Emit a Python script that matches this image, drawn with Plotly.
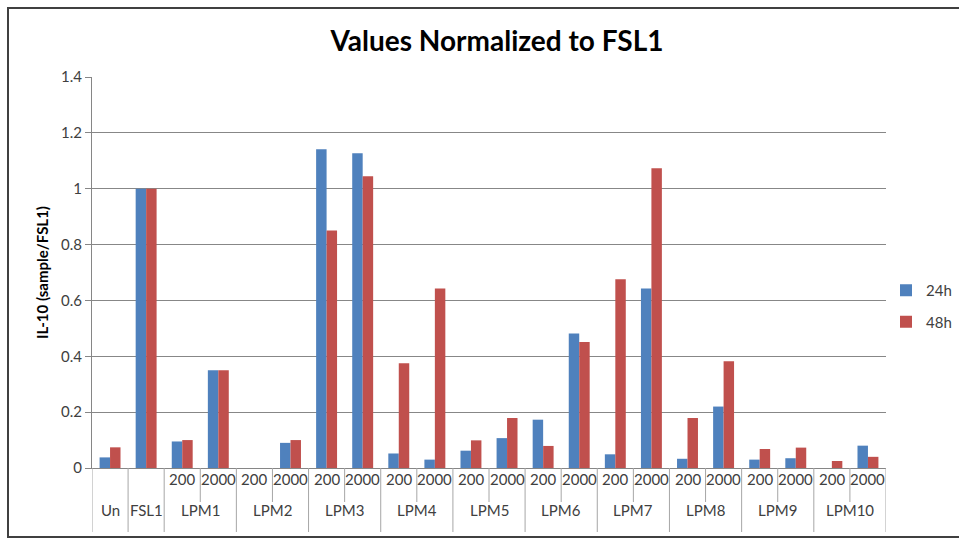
import plotly.graph_objects as go

groups = ["Un", "FSL1", "LPM1", "LPM2", "LPM3", "LPM4", "LPM5", "LPM6", "LPM7", "LPM8", "LPM9", "LPM10"]
doses = ["200", "2000"]
categories = ["Un", "FSL1"] + [f"{g} {d}" for g in groups[2:] for d in doses]
sub_labels = ["", ""] + [d for g in groups[2:] for d in doses]

v24 = [0.038, 1.0, 0.095, 0.35, 0.0, 0.09, 1.141, 1.127, 0.052, 0.03, 0.062, 0.107,
       0.173, 0.482, 0.049, 0.643, 0.033, 0.22, 0.03, 0.035, 0.0, 0.08]
v48 = [0.074, 1.0, 0.10, 0.35, 0.0, 0.10, 0.85, 1.045, 0.375, 0.643, 0.099, 0.179,
       0.079, 0.451, 0.676, 1.073, 0.179, 0.382, 0.068, 0.073, 0.025, 0.04]
series_names = ["24h", "48h"]
colors = ["#4F81BD", "#C0504D"]

W, H = 959, 540
L, R, T, B = 92, 886, 77, 468

def px_x(p):
    return (p - L) / (R - L)

def px_y(p):
    return (B - p) / (B - T)

fig = go.Figure()
for name, vals, c in zip(series_names, [v24, v48], colors):
    fig.add_trace(go.Bar(x=categories, y=vals, name=name, legendgroup=name,
                         marker=dict(color=c, line=dict(width=0))))

shapes = []
annotations = []
n = len(categories)
lab_font = dict(family="Lato, sans-serif", size=15, color="#404040")
for i, lab in enumerate(sub_labels):
    if lab:
        annotations.append(dict(x=categories[i], y=px_y(490), xref="x", yref="paper", text=lab,
                                showarrow=False, font=lab_font))
pos = 0
group_sizes = [1, 1] + [2] * 10
outer_bounds = [-0.5]
for g, s in zip(groups, group_sizes):
    center = pos + (s - 1) / 2
    annotations.append(dict(x=center, y=px_y(521), xref="x", yref="paper", text=g,
                            showarrow=False, font=lab_font))
    if s == 2:
        shapes.append(dict(type="line", xref="x", yref="paper", x0=pos + 0.5, x1=pos + 0.5,
                           y0=0, y1=px_y(502), line=dict(color="#A6A6A6", width=1)))
    pos += s
    outer_bounds.append(pos - 0.5)
for b in outer_bounds:
    shapes.append(dict(type="line", xref="x", yref="paper", x0=b, x1=b,
                       y0=0, y1=px_y(532), line=dict(color="#A6A6A6", width=1)))
# chart-area border (left, top, bottom)
border = dict(color="#404040", width=2)
shapes.append(dict(type="line", xref="paper", yref="paper", x0=px_x(7), x1=px_x(959),
                   y0=px_y(8), y1=px_y(8), line=border))
shapes.append(dict(type="line", xref="paper", yref="paper", x0=px_x(8), x1=px_x(8),
                   y0=px_y(7), y1=px_y(537), line=border))
shapes.append(dict(type="line", xref="paper", yref="paper", x0=px_x(7), x1=px_x(959),
                   y0=px_y(537), y1=px_y(537), line=border))

fig.update_layout(
    width=W, height=H,
    margin=dict(l=L, r=W - R, t=T, b=H - B, pad=0, autoexpand=False),
    paper_bgcolor="white", plot_bgcolor="white",
    title=dict(text="<b>Values Normalized to FSL1</b>", x=497 / W, xanchor="center",
               y=1 - 41 / H, yanchor="middle", font=dict(family="Lato, sans-serif", size=28, color="black")),
    font=dict(family="Lato, sans-serif", size=15, color="#404040"),
    barmode="group", bargap=0.42, bargroupgap=0,
    xaxis=dict(range=[-0.5, n - 0.5], showticklabels=False, ticks="", showgrid=False,
               showline=True, linecolor="#868686", linewidth=1, fixedrange=True, automargin=False),
    yaxis=dict(range=[0, 1.4], tickvals=[0, 0.2, 0.4, 0.6, 0.8, 1, 1.2, 1.4],
               ticktext=["0", "0.2", "0.4", "0.6", "0.8", "1", "1.2", "1.4"],
               showgrid=True, gridcolor="#878787", gridwidth=1, zeroline=False,
               showline=True, linecolor="#868686", linewidth=1, ticks="outside", ticklen=6,
               tickcolor="#868686", tickfont=dict(size=15, color="#404040"), automargin=False,
               title=dict(text="<b>IL-10 (sample/FSL1)</b>", font=dict(size=15, color="black"), standoff=8)),
    legend=dict(x=px_x(886), y=px_y(274), xanchor="left", yanchor="top", font=dict(size=15, color="#404040"),
                tracegroupgap=9, bgcolor="rgba(0,0,0,0)"),
    shapes=shapes, annotations=annotations, showlegend=True,
)

fig.write_html("out.html", config={"displayModeBar": False},
               post_script="document.body.style.margin='0';document.body.style.overflow='hidden';")
